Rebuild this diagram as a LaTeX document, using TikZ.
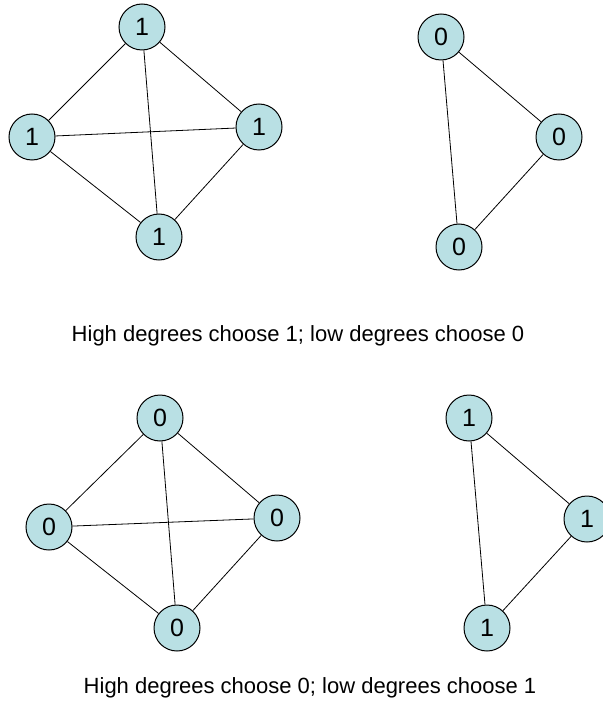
\documentclass[tikz,border=0pt]{standalone}
\usepackage{fontspec}
\setmainfont{Liberation Sans}
\usepackage{tikz}
\definecolor{nodeblue}{RGB}{185,224,228}

\begin{document}
\begin{tikzpicture}[x=1pt,y=-1pt,
  vtx/.style={circle,draw,fill=nodeblue,line width=1pt,minimum size=46pt,inner sep=0pt,font=\fontsize{25}{25}\selectfont},
  caption/.style={anchor=base,font=\fontsize{22}{26}\selectfont},
  every path/.style={line width=0.8pt}]
\useasboundingbox (0,0) rectangle (602,703);
\node[vtx] (a) at (142,27) {1};
\node[vtx] (b) at (32,137) {1};
\node[vtx] (c) at (259,127) {1};
\node[vtx] (d) at (159,237) {1};
\node[vtx] (e) at (441,37) {0};
\node[vtx] (f) at (559,137) {0};
\node[vtx] (g) at (459,247) {0};
\node[caption] (s) at (298,341) {High degrees choose 1; low degrees choose 0};
\node[vtx] (h) at (160,418) {0};
\node[vtx] (i) at (49,527) {0};
\node[vtx] (j) at (277,518) {0};
\node[vtx] (k) at (177,628) {0};
\node[vtx] (l) at (469,418) {1};
\node[vtx] (m) at (587,519) {1};
\node[vtx] (n) at (487,628) {1};
\node[caption] (t) at (310,693) {High degrees choose 0; low degrees choose 1};
\draw (a) -- (b);
\draw (a) -- (c);
\draw (a) -- (d);
\draw (b) -- (c);
\draw (b) -- (d);
\draw (c) -- (d);
\draw (e) -- (f);
\draw (e) -- (g);
\draw (f) -- (g);
\draw (h) -- (i);
\draw (h) -- (j);
\draw (h) -- (k);
\draw (i) -- (j);
\draw (i) -- (k);
\draw (j) -- (k);
\draw (l) -- (m);
\draw (l) -- (n);
\draw (m) -- (n);
\end{tikzpicture}
\end{document}
